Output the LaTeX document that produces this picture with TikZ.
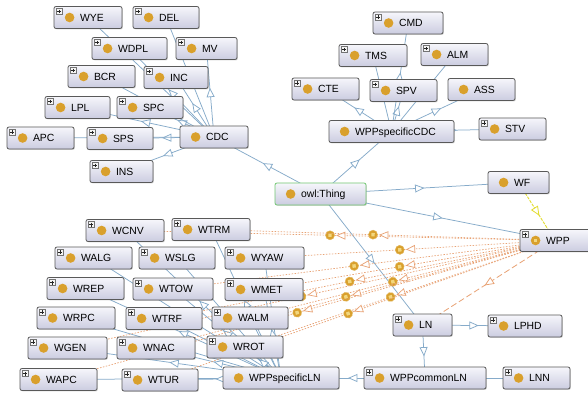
\documentclass[tikz,border=0pt]{standalone}
\usepackage{fontspec}
\setmainfont{Liberation Sans}
\usetikzlibrary{decorations.markings,shadows,shadings}
\definecolor{eblue}{HTML}{86ABCA}
\definecolor{eorange}{HTML}{E8A274}
\definecolor{eyellow}{HTML}{E2DC2E}
\definecolor{gold}{HTML}{D9A02C}
\definecolor{sqcol}{HTML}{F2D77E}
\definecolor{lavtop}{HTML}{F6F6FB}
\definecolor{lavbot}{HTML}{CBCCE0}
\definecolor{thinggreen}{HTML}{72C872}
\pgfdeclarelayer{edges}
\pgfsetlayers{edges,main}
\tikzset{
  cls/.style={draw=black!65, line width=0.8pt, rounded corners=2pt,
    top color=lavtop, bottom color=lavbot, minimum height=22pt, inner sep=0pt,
    text height=7.4pt, text depth=0pt, font=\fontsize{10.4}{12}\selectfont,
    drop shadow={shadow xshift=0.9pt, shadow yshift=-0.9pt, opacity=0.3}},
  thingbox/.style={draw=thinggreen},
  sub/.style={draw=eblue, line width=0.75pt, postaction={decorate},
    decoration={markings, mark=at position 0.5 with {
      \draw[eblue, fill=white, solid, line width=0.75pt] (4pt,0pt) -- (-4pt,3.5pt) -- (-4pt,-3.5pt) -- cycle;}}},
  prop/.style={draw=eorange, line width=0.7pt, dash pattern=on 1.5pt off 1.5pt, postaction={decorate},
    decoration={markings, mark=at position 0.5 with {
      \draw[eorange, fill=white, solid, line width=0.7pt] (3pt,0pt) -- (-5pt,3.5pt) -- (-5pt,-3.5pt) -- cycle;
      \filldraw[draw=gold!80!white, fill=gold, solid, line width=0.5pt] (10pt,0pt) circle (4.5pt);
      \fill[sqcol] (8.3pt,-1.7pt) rectangle (11.7pt,1.7pt);}}},
  lprop/.style={draw=eorange, line width=0.8pt, dash pattern=on 6pt off 3pt, postaction={decorate},
    decoration={markings, mark=at position 0.5 with {
      \draw[eorange, fill=white, solid, line width=0.75pt] (4pt,0pt) -- (-4pt,3.5pt) -- (-4pt,-3.5pt) -- cycle;}}},
  yprop/.style={draw=eyellow, line width=0.9pt, dash pattern=on 3pt off 1.2pt, postaction={decorate},
    decoration={markings, mark=at position 0.5 with {
      \draw[eyellow, fill=white, solid, line width=0.8pt] (4pt,0pt) -- (-4pt,3.5pt) -- (-4pt,-3.5pt) -- cycle;}}},
}
\newcommand\owlc[6][]{%
  \node[cls, minimum width=#5pt, #1] (#2) at (#3,#4) {\makebox[#5pt][l]{\hspace{26pt}#6}};
  \fill[gold] ([xshift=16pt]#2.west) circle (4.8pt);
}
\newcommand\plusb[1]{%
  \draw[draw=black!55, fill=black!4, line width=0.4pt] ([xshift=2.5pt,yshift=-2.5pt]#1.north west) rectangle ++(6pt,-6pt);
  \draw[black!85, line width=0.6pt] ([xshift=3.6pt,yshift=-5.5pt]#1.north west) -- ++(3.8pt,0pt)
    ([xshift=5.5pt,yshift=-3.6pt]#1.north west) -- ++(0pt,-3.8pt);
}
\newcommand\subc[2]{\draw[sub] (#1.center) -- (#2.center);}
\newcommand\propc[2]{\draw[prop] (#1.center) -- (#2.center);}
\begin{document}
\begin{tikzpicture}[x=1pt,y=-1pt]
\path[use as bounding box] (0,0) rectangle (588,395);
\clip (0,0) rectangle (588,395);
% ---- top-left cluster
\owlc{WYE}{88}{17.5}{68}{WYE}\plusb{WYE}
\owlc{DEL}{166}{17.5}{66}{DEL}\plusb{DEL}
\owlc{WDPL}{129.5}{48.5}{75}{WDPL}\plusb{WDPL}
\owlc{MV}{206.5}{48.5}{61}{MV}\plusb{MV}
\owlc{BCR}{101.5}{76.5}{67}{BCR}\plusb{BCR}
\owlc{INC}{176}{77.5}{64}{INC}\plusb{INC}
\owlc{LPL}{77.5}{107.5}{65}{LPL}\plusb{LPL}
\owlc{SPC}{150}{107.5}{66}{SPC}\plusb{SPC}
\owlc{APC}{40.5}{138}{67}{APC}\plusb{APC}
\owlc{SPS}{120}{138.5}{66}{SPS}\plusb{SPS}
\owlc{CDC}{214}{137}{68}{CDC}
\owlc{INS}{121.5}{171.5}{63}{INS}\plusb{INS}
% ---- top-right cluster
\owlc{CMD}{408}{23}{70}{CMD}\plusb{CMD}
\owlc{TMS}{373}{55.5}{68}{TMS}\plusb{TMS}
\owlc{ALM}{454.5}{54.5}{67}{ALM}\plusb{ALM}
\owlc{CTE}{325.5}{89}{67}{CTE}\plusb{CTE}
\owlc{SPV}{403.5}{90.5}{67}{SPV}\plusb{SPV}
\owlc{ASS}{481.5}{89.5}{67}{ASS}
\owlc{WPPsCDC}{391.5}{131.5}{125}{WPPspecificCDC}
\owlc{STV}{512.5}{129}{67}{STV}\plusb{STV}
\owlc{WF}{518.5}{182.5}{61}{WF}
\owlc[thingbox]{owl}{320.5}{194}{91}{owl:Thing}
\owlc{WPP}{555}{240.5}{70}{WPP}\plusb{WPP}
\fill[sqcol] ([xshift=14.2pt,yshift=-1.8pt]WPP.west) rectangle ++(3.6pt,3.6pt);
% ---- LN cluster
\owlc{LN}{422.5}{325}{59}{LN}\plusb{LN}
\owlc{LPHD}{525}{326}{74}{LPHD}\plusb{LPHD}
\owlc{WPPcLN}{425}{378}{122}{WPPcommonLN}\plusb{WPPcLN}
\owlc{LNN}{536.5}{378}{67}{LNN}\plusb{LNN}
% ---- W cluster
\owlc{WCNV}{125}{230.5}{78}{WCNV}\plusb{WCNV}
\owlc{WTRM}{211}{229.5}{78}{WTRM}\plusb{WTRM}
\owlc{WALG}{93.5}{258}{77}{WALG}\plusb{WALG}
\owlc{WSLG}{177}{258}{76}{WSLG}\plusb{WSLG}
\owlc{WYAW}{264.5}{258}{79}{WYAW}\plusb{WYAW}
\owlc{WREP}{85.5}{288.5}{77}{WREP}\plusb{WREP}
\owlc{WTOW}{173}{289}{80}{WTOW}\plusb{WTOW}
\owlc{WMET}{264}{289.5}{78}{WMET}\plusb{WMET}
\owlc{WRPC}{76}{318}{78}{WRPC}\plusb{WRPC}
\owlc{WTRF}{164}{318.5}{76}{WTRF}\plusb{WTRF}
\owlc{WALM}{250}{318}{76}{WALM}\plusb{WALM}
\owlc{WGEN}{67.5}{348}{79}{WGEN}\plusb{WGEN}
\owlc{WNAC}{156}{348}{78}{WNAC}\plusb{WNAC}
\owlc{WROT}{245}{347}{76}{WROT}\plusb{WROT}
\owlc{WAPC}{58.5}{379.5}{77}{WAPC}\plusb{WAPC}
\owlc{WTUR}{160}{380}{76}{WTUR}\plusb{WTUR}
\owlc{WPPsLN}{281}{378}{116}{WPPspecificLN}
% ---- edges
\begin{pgfonlayer}{edges}
\fill[white] (0,0) rectangle (588,395);
\subc{owl}{CDC}\subc{owl}{WPPsCDC}\subc{owl}{WF}\subc{owl}{WPP}\subc{owl}{LN}
\foreach \t in {SPS,APC,INS,LPL,SPC,BCR,INC,WDPL,WYE,DEL,MV}{\subc{CDC}{\t}}
\foreach \t in {CTE,SPV,ASS,TMS,CMD,ALM,STV}{\subc{WPPsCDC}{\t}}
\subc{LN}{LPHD}\subc{LN}{WPPcLN}
\subc{WPPcLN}{WPPsLN}\subc{WPPcLN}{LNN}
\foreach \t in {WCNV,WTRM,WALG,WSLG,WYAW,WREP,WTOW,WMET,WRPC,WTRF,WALM,WGEN,WNAC,WROT,WAPC,WTUR}{\subc{WPPsLN}{\t}}
\foreach \t in {WCNV,WTRM,WYAW,WTOW,WMET,WTRF,WALM,WNAC,WROT,WGEN,WAPC,WTUR}{\propc{WPP}{\t}}
\draw[lprop] (WPP.center) -- (LN.center);
\draw[yprop] (WF.center) -- (WPP.center);
\end{pgfonlayer}
\end{tikzpicture}
\end{document}
